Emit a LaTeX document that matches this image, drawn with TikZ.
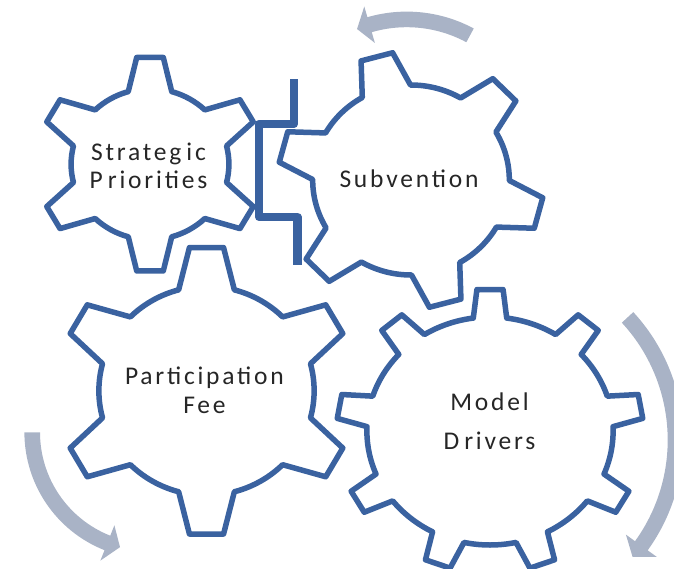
\documentclass[tikz,border=0pt]{standalone}
\usepackage{fontspec}
\setmainfont{Carlito}[LetterSpace=11]
\definecolor{gearblue}{HTML}{3A62A0}
\definecolor{arrowgray}{HTML}{A9B3C6}
\definecolor{txtgray}{HTML}{262626}
% #1 cx, #2 cy, #3 xscale, #4 first tooth angle, #5 teeth, #6 tip radius, #7 root radius, #8 tip half-angle, #9 base half-angle
\newcommand\drawgear[9]{%
  \begin{scope}[shift={(#1,#2)}, xscale=#3, yscale=-1]
    \pgfmathsetmacro\gearstp{360/#5}
    \pgfmathtruncatemacro\gearlast{#5-1}
    \draw[gearline] ({#4-#9}:#7)
      \foreach \k in {0,...,\gearlast}{
        -- ({#4+\k*\gearstp-#8}:#6) -- ({#4+\k*\gearstp+#8}:#6) -- ({#4+\k*\gearstp+#9}:#7)
        arc[start angle={#4+\k*\gearstp+#9}, end angle={#4+(\k+1)*\gearstp-#9}, radius=#7]
      } -- cycle;
  \end{scope}}
% #1 cx, #2 cy, #3 radius, #4 tail angle, #5 head base angle, #6 tip angle
\newcommand\drawbend[6]{%
  \begin{scope}[shift={(#1,#2)}, yscale=-1]
    \pgfmathsetmacro\bandout{#3+7.8}
    \pgfmathsetmacro\bandin{#3-7.8}
    \pgfmathsetmacro\headout{#3+19}
    \pgfmathsetmacro\headin{#3-19}
    \fill[bendarrow] (#4:\bandout) arc[start angle=#4, end angle=#5, radius=\bandout]
      -- (#5:\headout) -- (#6:#3) -- (#5:\headin) -- (#5:\bandin)
      arc[start angle=#5, end angle=#4, radius=\bandin] -- cycle;
  \end{scope}}
\begin{document}
\begin{tikzpicture}[x=1pt,y=1pt,
  gearline/.style={draw=gearblue, line width=5.5pt, fill=white, line join=round},
  bendarrow/.style={fill=arrowgray, draw=none},
  geartext/.style={text=txtgray, font=\fontsize{25.5}{28.3}\selectfont, align=center, inner sep=0pt},
  bracketline/.style={draw=gearblue, line width=8.5pt, line join=round}]
\begin{scope}[yscale=-1]
\useasboundingbox (0,0) rectangle (674,568);
\clip (0,0) rectangle (674,568);
% rotation arrows
\drawbend{406.8}{152.8}{133.4}{61.7}{106.2}{111.9}
\drawbend{494.7}{440}{180.8}{42.7}{-35.8}{-40.3}
\drawbend{151.2}{432.3}{119}{180}{248.4}{254.8}
% gears
\drawgear{150}{164.2}{1.045}{90}{6}{107.5}{75.5}{6.8}{16}
\drawgear{411}{180}{1.035}{105}{6}{128.5}{95}{7.05}{14.7}
\drawgear{206.5}{390.8}{1.03}{90}{6}{144.2}{104.5}{6.6}{15}
\drawgear{490}{431}{1.08}{90}{9}{142}{114}{4.9}{7.8}
% bracket between the upper gears
\draw[bracketline] (293.8,79.3) -- (293.8,124) -- (259.2,124) -- (259.2,217) -- (297.5,217) -- (297.5,265);
% labels
\node[geartext] (strat) at (148.5,165.7) {Strateg\kern5pt ic\\P\kern5pt riorities};
\node[geartext, anchor=base] (subv) at (409,187.3) {Subvention};
\node[geartext] (part) at (204.5,390.4) {P\kern2pt articipation\\Fee};
\node[geartext] (model) at (489.5,421.3) {Model\\[11pt]D\kern5pt rivers};
\end{scope}
\end{tikzpicture}
\end{document}
